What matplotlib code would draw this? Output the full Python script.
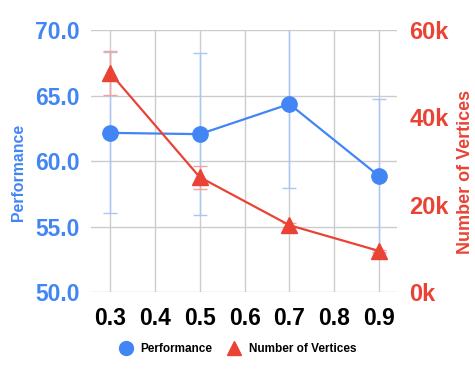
import matplotlib.pyplot as plt
from matplotlib.lines import Line2D

plt.rcParams['font.family'] = ['Liberation Sans', 'DejaVu Sans']

# data
thresholds = [0.3, 0.5, 0.7, 0.9]
performance = [62.15, 62.05, 64.35, 58.85]
performance_err = [6.15, 6.2, 6.4, 5.85]
vertices = [50200, 26300, 15300, 9400]
vertices_err = [5000, 2600, 500, 300]

x_ticks = [0.3, 0.4, 0.5, 0.6, 0.7, 0.8, 0.9]
left_ticks = [50, 55, 60, 65, 70]
right_ticks = [0, 20000, 40000, 60000]

blue = '#4285F4'
red = '#EA4335'

fig = plt.figure(figsize=(4.75, 3.71), dpi=100)
ax = fig.add_axes([0.1916, 0.2129, 0.6442, 0.7062])
ax2 = ax.twinx()

ax.errorbar(thresholds, performance, yerr=performance_err, color=blue,
            ecolor='#a8c6f8', elinewidth=1, capsize=5, capthick=1,
            marker='o', markersize=11, linewidth=1.6, zorder=3)
ax2.errorbar(thresholds, vertices, yerr=vertices_err, color=red,
             ecolor='#f3a39b', elinewidth=1, capsize=5, capthick=1,
             marker='^', markersize=12, linewidth=1.6, zorder=3)

ax.set_xlim(0.2575, 0.94)
ax.set_ylim(50, 70)
ax2.set_ylim(0, 60000)

ax.set_xticks(x_ticks)
ax.set_xticklabels([f'{v:.1f}' for v in x_ticks], fontsize=16.5, fontweight='bold')
ax.set_yticks(left_ticks)
ax.set_yticklabels([f'{v:.1f}' for v in left_ticks], fontsize=16.5,
                   fontweight='bold', color=blue)
ax2.set_yticks(right_ticks)
ax2.set_yticklabels([f'{v // 1000}k' for v in right_ticks], fontsize=17,
                    fontweight='bold', color=red)

ax.grid(True, color='#cccccc', linewidth=1)
ax.set_axisbelow(True)
ax.tick_params(axis='x', length=0, pad=11)
ax.tick_params(axis='y', length=0, pad=8)
ax2.tick_params(length=0, pad=9)
for a in (ax, ax2):
    for s in a.spines.values():
        s.set_visible(False)

fig.text(0.038, 0.536, 'Performance', color=blue, fontsize=11.4,
         fontweight='bold', rotation=90, ha='center', va='center')
fig.text(0.981, 0.536, 'Number of Vertices', color=red, fontsize=13,
         fontweight='bold', rotation=90, ha='center', va='center')

handles = [
    Line2D([], [], color=blue, marker='o', linestyle='', markersize=10),
    Line2D([], [], color=red, marker='^', linestyle='', markersize=10),
]
fig.legend(handles, ['Performance', 'Number of Vertices'], loc='center',
           bbox_to_anchor=(0.495, 0.059), ncol=2, frameon=False,
           prop={'size': 8.5, 'weight': 'bold'}, handletextpad=0.2,
           columnspacing=0.9)

plt.savefig('out.png', dpi=100)
